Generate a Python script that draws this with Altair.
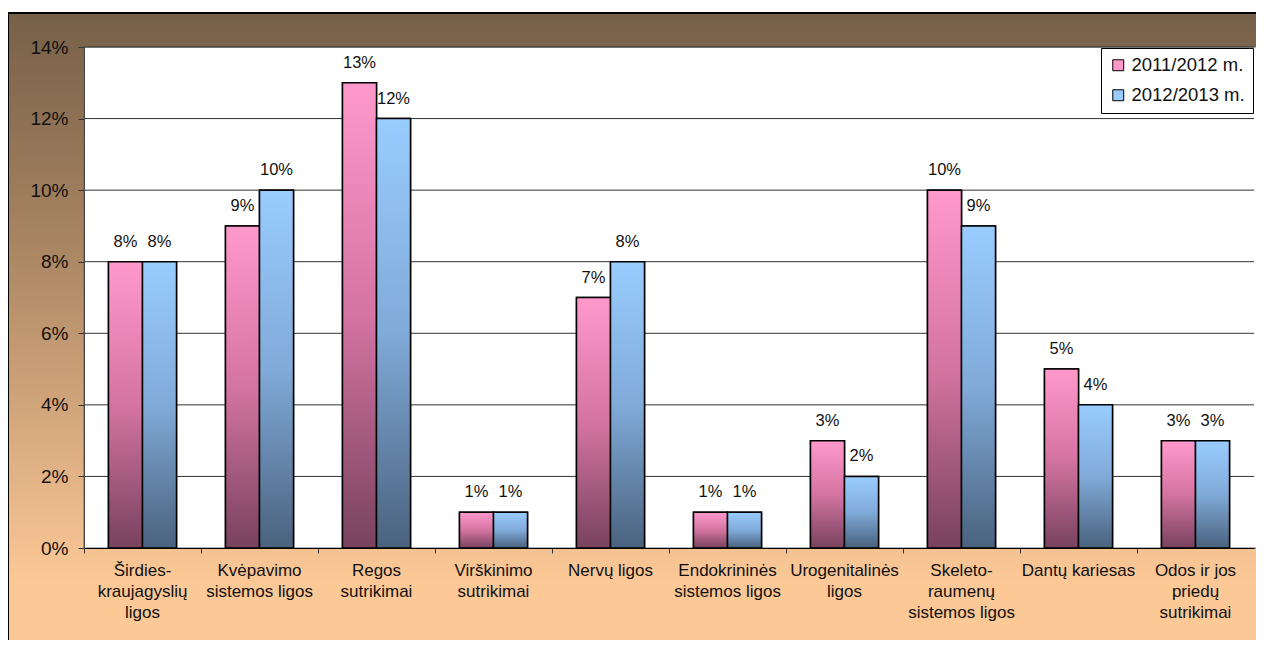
import altair as alt
import pandas as pd

categories = [
    "Širdies-\nkraujagyslių\nligos",
    "Kvėpavimo\nsistemos ligos",
    "Regos\nsutrikimai",
    "Virškinimo\nsutrikimai",
    "Nervų ligos",
    "Endokrininės\nsistemos ligos",
    "Urogenitalinės\nligos",
    "Skeleto-\nraumenų\nsistemos ligos",
    "Dantų kariesas",
    "Odos ir jos\npriedų\nsutrikimai",
]
series = ["2011/2012 m.", "2012/2013 m."]
v2011 = [0.08, 0.09, 0.13, 0.01, 0.07, 0.01, 0.03, 0.10, 0.05, 0.03]
v2012 = [0.08, 0.10, 0.12, 0.01, 0.08, 0.01, 0.02, 0.09, 0.04, 0.03]
y_ticks = [0.02, 0.04, 0.06, 0.08, 0.10, 0.12, 0.14]

rows = []
for i, c in enumerate(categories):
    rows.append({"cat": c, "series": series[0], "value": v2011[i]})
    rows.append({"cat": c, "series": series[1], "value": v2012[i]})
df = pd.DataFrame(rows)

W, H = 1170, 501
PAD = {"left": 76, "top": 39, "right": 2, "bottom": 92}
FONT = "Liberation Sans, Arial, sans-serif"

xenc = alt.X("cat:N", sort=categories, title=None,
             scale=alt.Scale(paddingInner=0, paddingOuter=0))
xoff = alt.XOffset("series:N", sort=series,
                   scale=alt.Scale(paddingInner=0, paddingOuter=0.72))
yenc = alt.Y("value:Q", title=None, scale=alt.Scale(domain=[0, 0.14], nice=False))

one = alt.Data(values=[{"a": 1}])

bg = alt.Chart(one).mark_rect(
    color=alt.LinearGradient(
        gradient="linear", x1=0, x2=0, y1=0, y2=1,
        stops=[alt.GradientStop(color="#766048", offset=0),
               alt.GradientStop(color="#a88462", offset=0.35),
               alt.GradientStop(color="#fcc896", offset=0.88),
               alt.GradientStop(color="#fcc896", offset=1)]),
    stroke="black", strokeWidth=2,
).encode(
    x=alt.value(-PAD["left"]), x2=alt.value(W + 20),
    y=alt.value(-34), y2=alt.value(H + PAD["bottom"] + 20),
)

white = alt.Chart(one).mark_rect(color="white", stroke="#666", strokeWidth=1).encode(
    x=alt.value(0), x2=alt.value(W + 10), y=alt.value(0), y2=alt.value(H),
)

grid = alt.Chart(pd.DataFrame({"t": y_ticks})).mark_rule(color="#333", strokeWidth=1).encode(
    y=alt.Y("t:Q", scale=alt.Scale(domain=[0, 0.14], nice=False), title=None),
    x=alt.value(0), x2=alt.value(W),
)

base = alt.Chart(df)

solid = base.mark_bar(stroke="black", strokeWidth=1.5).encode(
    x=xenc.axis(
        labelExpr="split(datum.label, '\\n')", labelFontSize=17, labelFont=FONT,
        labelColor="#111", labelLineHeight=21, labelPadding=9, labelAngle=0,
        bandPosition=0, tickSize=5, tickColor="#333", domainColor="black",
        zindex=2,
    ),
    xOffset=xoff,
    y=yenc.axis(
        format=".0%", values=[0, 0.02, 0.04, 0.06, 0.08, 0.10, 0.12, 0.14],
        labelFontSize=19, labelFont=FONT, labelColor="#111", tickSize=6,
        labelPadding=10, tickColor="#333", domainColor="#444", grid=False, zindex=2,
    ),
    color=alt.Color("series:N", sort=series, title=None,
                    scale=alt.Scale(domain=series, range=["#ff99cc", "#99ccff"]),
                    legend=alt.Legend(orient="top-right", offset=1, strokeColor="black",
                                      fillColor="white", padding=8, labelFontSize=18.5,
                                      labelFont=FONT, labelColor="#111",
                                      symbolType="square", symbolSize=120,
                                      symbolStrokeColor="black", symbolStrokeWidth=1,
                                      rowPadding=11, labelOffset=4)),
)

def grad_bars(name, top, mid, bottom):
    return base.transform_filter(alt.datum.series == name).mark_bar(
        stroke="black", strokeWidth=1.5,
        color=alt.LinearGradient(
            gradient="linear", x1=0, x2=0, y1=0, y2=1,
            stops=[alt.GradientStop(color=top, offset=0),
                   alt.GradientStop(color=mid, offset=0.5),
                   alt.GradientStop(color=bottom, offset=1)]),
    ).encode(x=xenc, xOffset=xoff, y=yenc)

pink = grad_bars(series[0], "#ff99cc", "#d474a2", "#78425e")
blue = grad_bars(series[1], "#99ccff", "#80aad8", "#4a627e")

labels = base.mark_text(baseline="bottom", dy=-12, fontSize=16.5, font=FONT, color="#111").encode(
    x=xenc, xOffset=xoff, y=yenc, text=alt.Text("value:Q", format=".0%"),
)

chart = alt.layer(bg, white, grid, solid, pink, blue, labels).properties(
    width=W, height=H, padding=PAD, autosize="none",
).configure_view(stroke=None)

chart.save("out.html", embed_options={"renderer": "svg", "actions": False})
